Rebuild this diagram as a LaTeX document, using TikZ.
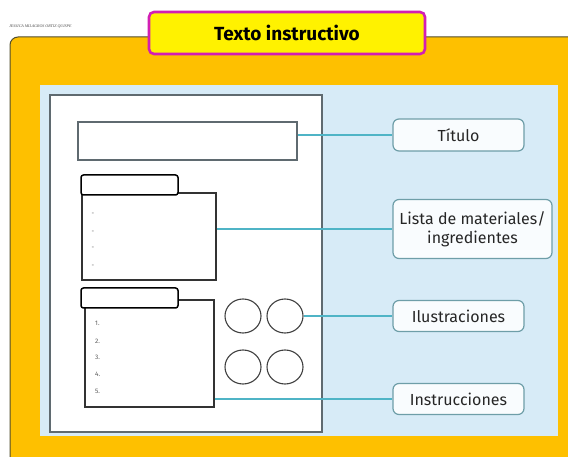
\documentclass[tikz,border=0pt]{standalone}
\usepackage{fontspec}
\setmainfont{Fira Sans}
\newfontfamily\authorfont{Liberation Serif}
\usepackage{tikz}
\usetikzlibrary{positioning, shapes.geometric}

\definecolor{panelorange}{HTML}{FEC000}
\definecolor{panelblue}{HTML}{D7EBF7}
\definecolor{linkteal}{HTML}{4FB4C6}
\definecolor{labelframe}{HTML}{6E9EA8}
\definecolor{titlemagenta}{HTML}{D21FB4}
\definecolor{pagegray}{HTML}{5F6A70}

\begin{document}
\begin{tikzpicture}[x=1pt, y=-1pt,
    sheet/.style={rectangle, draw=pagegray, line width=1.4pt, fill=white, inner sep=0pt},
    headbox/.style={rectangle, rounded corners=2.5pt, draw=black, line width=1.5pt, fill=white,
      minimum width=97pt, minimum height=20pt, inner sep=0pt},
    drawing/.style={ellipse, draw=black!75, line width=1.1pt, minimum width=36pt, minimum height=34pt, inner sep=0pt},
    tag/.style={rectangle, rounded corners=6pt, draw=labelframe, line width=1.2pt, fill=white!85!panelblue,
      align=center, font=\fontsize{16}{19}\selectfont, text=black!85, inner sep=2pt},
    item/.style={font=\fontsize{6.5}{7}\selectfont, text=black!65, inner sep=0pt},
    link/.style={draw=linkteal, line width=1.4pt}]
    \useasboundingbox (0,0) rectangle (568,457);
    \fill[white] (0,0) rectangle (568,457);
    % marcos de fondo
    \begin{scope}
        \clip (0,0) rectangle (568,457);
        \draw[fill=panelorange, draw=black!55!olive, line width=1pt, rounded corners=8pt] (10,37) rectangle (590,480);
    \end{scope}
    \node[inner sep=0pt, text=black!70, font=\authorfont\itshape\fontsize{4}{5}\selectfont, anchor=west] (author) at (9,27) {JESSICA MILAGROS ORTIZ QUISPE};
    \node[rectangle, rounded corners=5pt, draw=titlemagenta, line width=2.6pt, fill=yellow,
      minimum width=276pt, minimum height=42pt, font=\bfseries\fontsize{19}{22}\selectfont] (title) at (287,33) {Texto instructivo};
    \fill[panelblue] (40,85) rectangle (558,436);
    % hoja
    \node[sheet, minimum width=272pt, minimum height=337pt] (page) at (186,263.5) {};
    \node[sheet, line width=1.2pt, minimum width=219pt, minimum height=38pt] (titlebox) at (187.5,141) {};
    \node[sheet, line width=1.2pt, draw=black!80, minimum width=134pt, minimum height=87pt] (matbox) at (149,236.5) {};
    \node[headbox] (mathead) at (129.5,185) {};
    \foreach \y in {214,232,248,266}
        \node[item] at (93,\y) {-};
    \node[sheet, line width=1.2pt, draw=black!80, minimum width=129pt, minimum height=107pt] (instbox) at (149.5,353.5) {};
    \node[headbox] (insthead) at (129.5,298) {};
    \foreach \n/\y in {1/323,2/341,3/357,4/374,5/391}
        \node[item, anchor=west] at (95,\y) {\n.};
    \node[drawing] (c1) at (243,316) {};
    \node[drawing] (c2) at (285,316) {};
    \node[drawing] (c3) at (243,367) {};
    \node[drawing] (c4) at (285,367) {};
    % etiquetas
    \node[tag, minimum width=131pt, minimum height=32pt] (titulo) at (458.5,135) {Título};
    \node[tag, minimum width=159pt, minimum height=59pt] (lista) at (472.5,229) {Lista de materiales/\\ingredientes};
    \node[tag, minimum width=131pt, minimum height=31pt] (ilus) at (458.5,316) {Ilustraciones};
    \node[tag, minimum width=131pt, minimum height=31pt] (instr) at (458.5,399) {Instrucciones};
    \draw[link] (titulo.west -| titlebox.east) -- (titulo.west);
    \draw[link] (lista.west -| matbox.east) -- (lista.west);
    \draw[link] (c2.east) -- (ilus.west);
    \draw[link] (instr.west -| instbox.east) -- (instr.west);
\end{tikzpicture}
\end{document}
